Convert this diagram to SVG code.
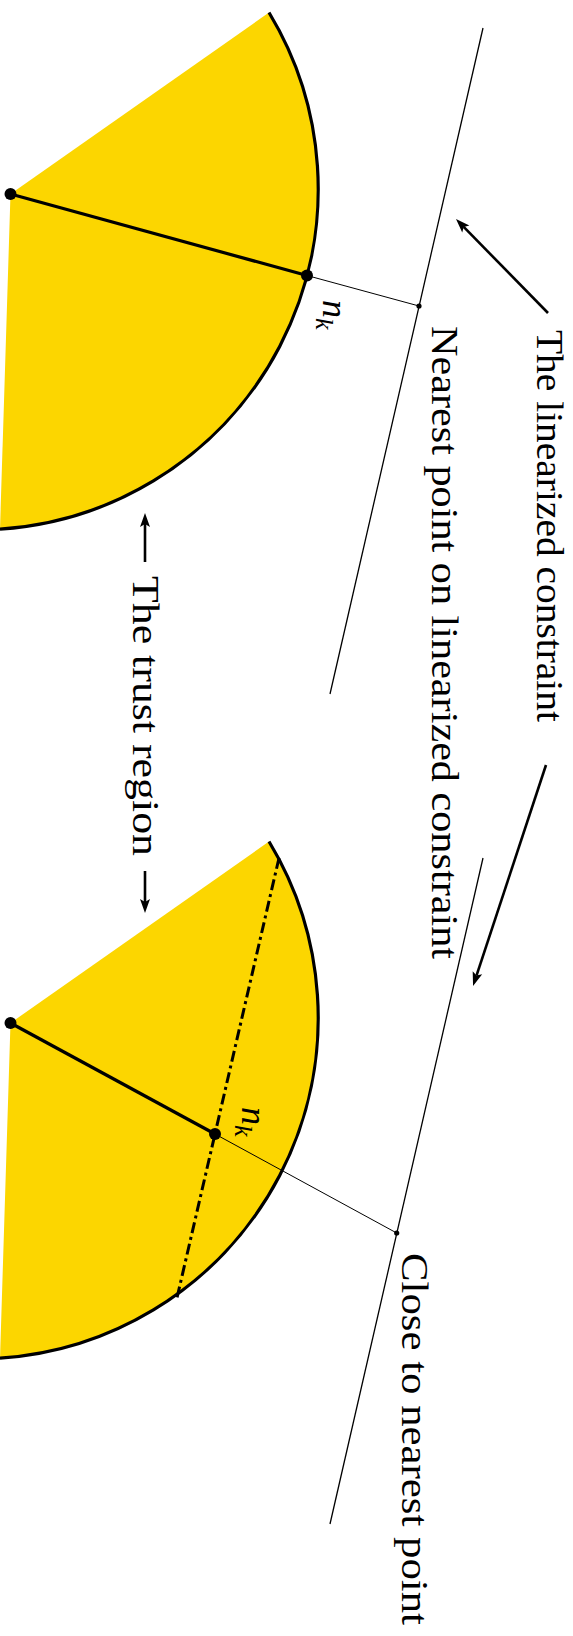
<svg xmlns="http://www.w3.org/2000/svg" width="573" height="1636" viewBox="0 0 573 1636">
  <style>
    .region { fill: #fcd600; stroke: none; }
    .arc { fill: none; stroke: #000; stroke-width: 3.2; }
    .thick { fill: none; stroke: #000; stroke-width: 3.2; }
    .thin { fill: none; stroke: #000; stroke-width: 1; }
    .cline { fill: none; stroke: #000; stroke-width: 1.3; }
    .dashdot { fill: none; stroke: #000; stroke-width: 3; stroke-dasharray: 11 4 3 4; }
    .arrow { fill: none; stroke: #000; stroke-width: 2.6; marker-end: url(#head); }
    .lbl { font-family: "Liberation Serif", "Times New Roman", serif; font-size: 38px; fill: #000; }
    .math { font-family: "Liberation Serif", "Times New Roman", serif; font-style: italic; fill: #000; }
  </style>
  <defs>
    <marker id="head" markerUnits="userSpaceOnUse" markerWidth="20" markerHeight="14" viewBox="0 -7 16 14" refX="3" refY="0" orient="auto">
      <path d="M0,-5 L14,0 L0,5 L3,0 Z" fill="#000"/>
    </marker>
  </defs>

  <g id="trust-region-top">
    <path class="region" d="M10.5,194 L269,12.5 A341,341 0 0 1 0,529.2 Z"/>
    <path class="arc" d="M269,12.5 A341,341 0 0 1 0,529.2"/>
  </g>

  <g id="trust-region-bottom">
    <path class="region" d="M10.5,1023 L269,841.5 A341,341 0 0 1 0,1358.2 Z"/>
    <path class="arc" d="M269,841.5 A341,341 0 0 1 0,1358.2"/>
  </g>

  <g id="constraint-top">
    <line class="cline" x1="483" y1="28" x2="330" y2="694"/>
  </g>
  <g id="constraint-bottom">
    <line class="cline" x1="483" y1="858" x2="330" y2="1524"/>
  </g>

  <g id="connectors">
    <line class="thin" x1="307" y1="275.5" x2="419" y2="306"/>
    <line class="thick" x1="10.5" y1="194" x2="307" y2="275.5"/>
    <line class="thin" x1="215" y1="1134" x2="396.7" y2="1233"/>
    <line class="dashdot" x1="279" y1="858" x2="176.6" y2="1299.5"/>
    <line class="thick" x1="10.5" y1="1023" x2="215" y2="1134"/>
    <line class="arrow" x1="548" y1="313" x2="463.7" y2="226.9"/>
    <line class="arrow" x1="546" y1="765" x2="476.5" y2="975.6"/>
    <line class="arrow" x1="145" y1="562" x2="145" y2="524"/>
    <line class="arrow" x1="145" y1="871" x2="145" y2="902"/>
  </g>

  <g id="point-xk-top"><circle cx="10.5" cy="194" r="6"/></g>
  <g id="point-nk-top"><circle cx="307" cy="275.5" r="6"/></g>
  <g id="point-nearest-top"><circle cx="419" cy="306" r="2.6"/></g>
  <g id="point-xk-bottom"><circle cx="10.5" cy="1023" r="6"/></g>
  <g id="point-nk-bottom"><circle cx="215" cy="1134" r="6"/></g>
  <g id="point-nearest-bottom"><circle cx="396.7" cy="1233" r="2.6"/></g>

  <g id="label-nk-top">
    <text class="math" transform="translate(323,300) rotate(90)" font-size="36">n<tspan font-size="26" dy="7">k</tspan></text>
  </g>
  <g id="label-nk-bottom">
    <text class="math" transform="translate(242,1107) rotate(90)" font-size="36">n<tspan font-size="26" dy="7">k</tspan></text>
  </g>

  <g id="label-linearized">
    <text class="lbl" transform="translate(537,330) rotate(90)" textLength="392" lengthAdjust="spacingAndGlyphs">The linearized constraint</text>
  </g>
  <g id="label-nearest">
    <text class="lbl" transform="translate(432,326) rotate(90)" textLength="633" lengthAdjust="spacingAndGlyphs">Nearest point on linearized constraint</text>
  </g>
  <g id="label-trust">
    <text class="lbl" transform="translate(133,576) rotate(90)" textLength="280" lengthAdjust="spacingAndGlyphs">The trust region</text>
  </g>
  <g id="label-close">
    <text class="lbl" transform="translate(402,1253) rotate(90)" textLength="372" lengthAdjust="spacingAndGlyphs">Close to nearest point</text>
  </g>
</svg>
